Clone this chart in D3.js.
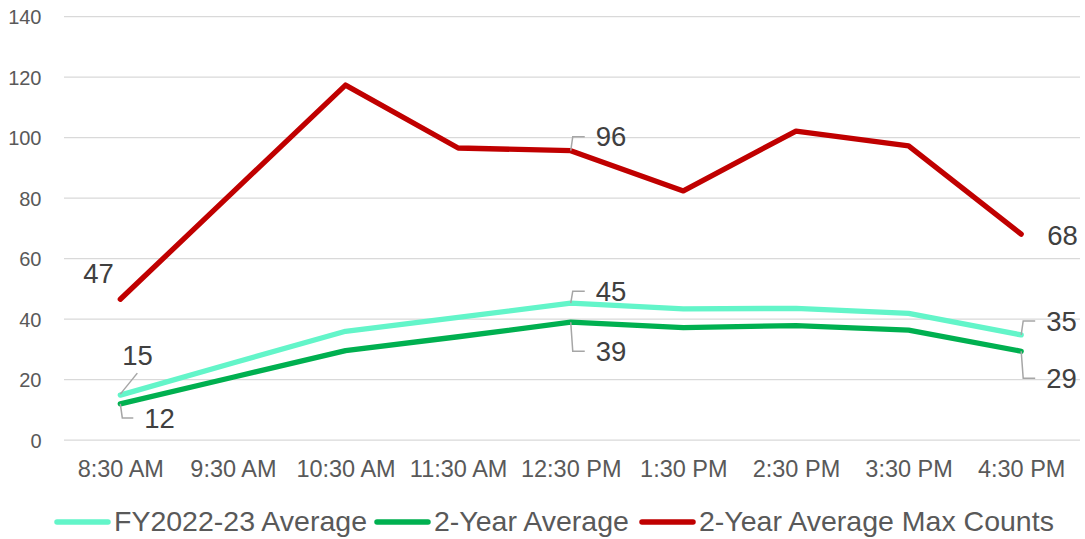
<!DOCTYPE html>
<html>
<head>
<meta charset="utf-8">
<script src="https://cdn.jsdelivr.net/npm/d3@7"></script>
<style>
  body { margin: 0; background: #fff; }
  svg { display: block; font-family: "Liberation Sans", Arial, sans-serif; }
</style>
</head>
<body>
<svg id="chart" width="1085" height="539"></svg>
<script>
// categories and series
var times = ["8:30 AM", "9:30 AM", "10:30 AM", "11:30 AM", "12:30 PM", "1:30 PM", "2:30 PM", "3:30 PM", "4:30 PM"];
var fyAverage = [14.9, 25.5, 36, 40.6, 45.3, 43.4, 43.6, 41.9, 34.8];
var twoYearAverage = [12, 20.8, 29.6, 34.2, 39, 37.2, 37.9, 36.4, 29.4];
var twoYearMax = [46.6, 82, 117.4, 96.6, 95.7, 82.4, 102.2, 97.3, 68.1];
var yTicks = [0, 20, 40, 60, 80, 100, 120, 140];
var seriesNames = ["FY2022-23 Average", "2-Year Average", "2-Year Average Max Counts"];

var svg = d3.select('#chart');

var x = d3.scalePoint()
  .domain(times)
  .range([64, 1077.5])
  .padding(0.5);

var y = d3.scaleLinear()
  .domain([0, 140])
  .range([440.2, 16.7]);

var colors = ["#63F5C9", "#00B050", "#C00000"];

// gridlines
svg.append('g')
  .selectAll('line')
  .data(yTicks)
  .enter().append('line')
  .attr('x1', 64)
  .attr('x2', 1080)
  .attr('y1', function(d) { return y(d); })
  .attr('y2', function(d) { return y(d); })
  .style('stroke', '#D9D9D9')
  .style('stroke-width', 1.3);

// y axis, drawn with d3 and stripped down to the labels
var yAxis = svg.append('g')
  .attr('transform', 'translate(41.5,0)')
  .call(d3.axisLeft(y).tickValues(yTicks).tickSize(0).tickPadding(0));
yAxis.select('.domain').remove();
yAxis.selectAll('text')
  .attr('dy', '0.35em')
  .style('font-family', '"Liberation Sans", Arial, sans-serif')
  .style('font-size', '20px')
  .style('fill', '#595959');

// x axis labels
var xAxis = svg.append('g')
  .attr('transform', 'translate(0,477)')
  .call(d3.axisBottom(x).tickSize(0).tickPadding(0));
xAxis.select('.domain').remove();
xAxis.selectAll('text')
  .attr('dy', 0)
  .attr('y', 0)
  .style('font-family', '"Liberation Sans", Arial, sans-serif')
  .style('font-size', '23.5px')
  .style('fill', '#595959');

// lines
var line = d3.line()
  .x(function(d, i) { return x(times[i]); })
  .y(function(d) { return y(d); });

var series = [fyAverage, twoYearAverage, twoYearMax];

svg.append('g')
  .selectAll('path')
  .data(series)
  .enter().append('path')
  .attr('d', line)
  .style('fill', 'none')
  .style('stroke', function(d, i) { return colors[i]; })
  .style('stroke-width', 5.3)
  .style('stroke-linejoin', 'round')
  .style('stroke-linecap', 'round');

// data labels (series index, point index, label offset, leader style)
var labels = [
  { s: 0, i: 0, dx: 2, dy: -40, leader: 'diag' },
  { s: 1, i: 0, dx: 24, dy: 14, leader: 'down' },
  { s: 0, i: 4, dx: 25, dy: -12, leader: 'up' },
  { s: 1, i: 4, dx: 25, dy: 29, leader: 'down' },
  { s: 0, i: 8, dx: 25, dy: -14, leader: 'up' },
  { s: 1, i: 8, dx: 25, dy: 27, leader: 'down' },
  { s: 2, i: 0, dx: -37, dy: -26, leader: null },
  { s: 2, i: 4, dx: 25, dy: -14, leader: 'up' },
  { s: 2, i: 8, dx: 26, dy: 1, leader: null }
];

var labelG = svg.append('g');

labels.forEach(function(l) {
  var v = series[l.s][l.i];
  var px = x(times[l.i]);
  var py = y(v);
  var ly = py + l.dy;

  if (l.leader === 'diag') {
    labelG.append('path')
      .attr('d', 'M' + px + ',' + (py - 1) + 'L' + (px + 17) + ',' + (py - 22))
      .style('fill', 'none')
      .style('stroke', '#A6A6A6')
      .style('stroke-width', 1.5);
  } else if (l.leader) {
    labelG.append('path')
      .attr('d', 'M' + px + ',' + py + 'L' + (px + 2) + ',' + ly + 'L' + (px + l.dx - 11) + ',' + ly)
      .style('fill', 'none')
      .style('stroke', '#A6A6A6')
      .style('stroke-width', 1.5);
  }

  labelG.append('text')
    .attr('x', px + l.dx)
    .attr('y', ly)
    .attr('dy', '0.35em')
    .style('font-size', '27.5px')
    .style('fill', '#404040')
    .text(Math.round(v));
});

// legend
var legendX = [55, 375, 640];
var legend = svg.append('g')
  .selectAll('g')
  .data(seriesNames)
  .enter().append('g')
  .attr('transform', function(d, i) { return 'translate(' + legendX[i] + ',522)'; });

legend.append('line')
  .attr('x1', 2)
  .attr('x2', 53)
  .style('stroke', function(d, i) { return colors[i]; })
  .style('stroke-width', 5.5)
  .style('stroke-linecap', 'round');

legend.append('text')
  .attr('x', 59)
  .attr('y', 9)
  .style('font-size', '28.5px')
  .style('fill', '#595959')
  .text(function(d) { return d; });
</script>
</body>
</html>
